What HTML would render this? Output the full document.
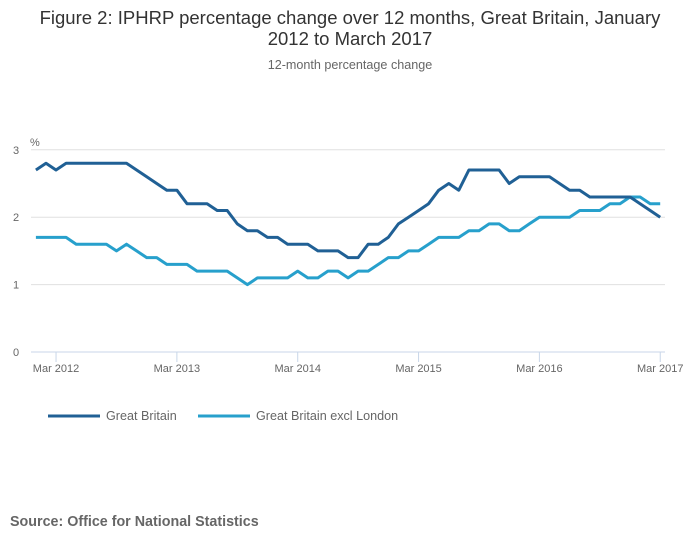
<!DOCTYPE html>
<html><head><meta charset="utf-8">
<style>
body{margin:0;width:700px;height:549px;background:#fff;font-family:"Liberation Sans",sans-serif;overflow:hidden;}
svg text{font-family:"Liberation Sans",sans-serif;}
</style></head>
<body>
<svg id="chart" width="700" height="549">
<text x="350" y="24" text-anchor="middle" font-size="18.5" fill="#333">Figure 2: IPHRP percentage change over 12 months, Great Britain, January</text>
<text x="350" y="45" text-anchor="middle" font-size="18.5" fill="#333">2012 to March 2017</text>
<text x="350" y="69" text-anchor="middle" font-size="12.6" fill="#666">12-month percentage change</text>
<text x="30" y="146" font-size="11" fill="#666">%</text>
<g id="grid"></g><g id="xaxis"></g><g id="series"></g>
<g>
<line x1="48" y1="416" x2="100" y2="416" stroke="#206095" stroke-width="3"/>
<text x="106" y="420" font-size="12.6" fill="#666">Great Britain</text>
<line x1="198" y1="416" x2="250" y2="416" stroke="#27a0cc" stroke-width="3"/>
<text x="256" y="420" font-size="12.6" fill="#666">Great Britain excl London</text>
</g>
<text x="10" y="526" font-size="14.3" font-weight="bold" fill="#666">Source: Office for National Statistics</text>
</svg>
<script>
const gbValues=[2.7,2.8,2.7,2.8,2.8,2.8,2.8,2.8,2.8,2.8,2.7,2.6,
2.5,2.4,2.4,2.2,2.2,2.2,2.1,2.1,1.9,1.8,1.8,1.7,
1.7,1.6,1.6,1.6,1.5,1.5,1.5,1.4,1.4,1.6,1.6,1.7,
1.9,2.0,2.1,2.2,2.4,2.5,2.4,2.7,2.7,2.7,2.7,2.5,
2.6,2.6,2.6,2.6,2.5,2.4,2.4,2.3,2.3,2.3,2.3,2.3,
2.2,2.1,2.0];
const gbExclLondonValues=[1.7,1.7,1.7,1.7,1.6,1.6,1.6,1.6,1.5,1.6,1.5,1.4,
1.4,1.3,1.3,1.3,1.2,1.2,1.2,1.2,1.1,1.0,1.1,1.1,
1.1,1.1,1.2,1.1,1.1,1.2,1.2,1.1,1.2,1.2,1.3,1.4,
1.4,1.5,1.5,1.6,1.7,1.7,1.7,1.8,1.8,1.9,1.9,1.8,
1.8,1.9,2.0,2.0,2.0,2.0,2.1,2.1,2.1,2.2,2.2,2.3,
2.3,2.2,2.2];
const yTicks=[0,1,2,3];
const xTickLabels=["Mar 2012","Mar 2013","Mar 2014","Mar 2015","Mar 2016","Mar 2017"];
const xTickMonthIdx=[2,14,26,38,50,62];

const NS="http://www.w3.org/2000/svg";
const xS=i=>35.9+i*10.07;
const yS=v=>352-v*67.4;
function mk(t,a,p){const e=document.createElementNS(NS,t);for(const k in a)e.setAttribute(k,a[k]);p.appendChild(e);return e;}
const grid=document.getElementById('grid');
yTicks.forEach(v=>{
  if(v>0){const l=mk('line',{x1:31,x2:665,y1:yS(v),y2:yS(v),stroke:'#e0e0e0','stroke-width':1},grid);
  
  }
  const t=mk('text',{x:13,y:yS(v)+4,'font-size':11,fill:'#666'},grid);t.textContent=v;
  
  
});
const xa=document.getElementById('xaxis');
const ax=mk('line',{x1:31,x2:665,y1:352,y2:352,stroke:'#c8d6e8','stroke-width':1},xa);


xTickLabels.forEach((lab,k)=>{
  const x=xS(xTickMonthIdx[k]);
  const tk=mk('line',{x1:x,x2:x,y1:352,y2:362,stroke:'#c8d6e8'},xa);
  
  
  const t=mk('text',{x:x,y:372,'font-size':11,fill:'#666','text-anchor':'middle'},xa);t.textContent=lab;
  
  
});
const sg=document.getElementById('series');
function line(vals,color,name){
  const d=vals.map((v,i)=>(i?'L':'M')+xS(i).toFixed(1)+','+yS(v).toFixed(1)).join('');
  const p=mk('path',{d:d,fill:'none',stroke:color,'stroke-width':3,'stroke-linejoin':'round'},sg);
  
  
}
line(gbExclLondonValues,'#27a0cc','series-gb-excl-london');
line(gbValues,'#206095','series-great-britain');
</script>
</body></html>
